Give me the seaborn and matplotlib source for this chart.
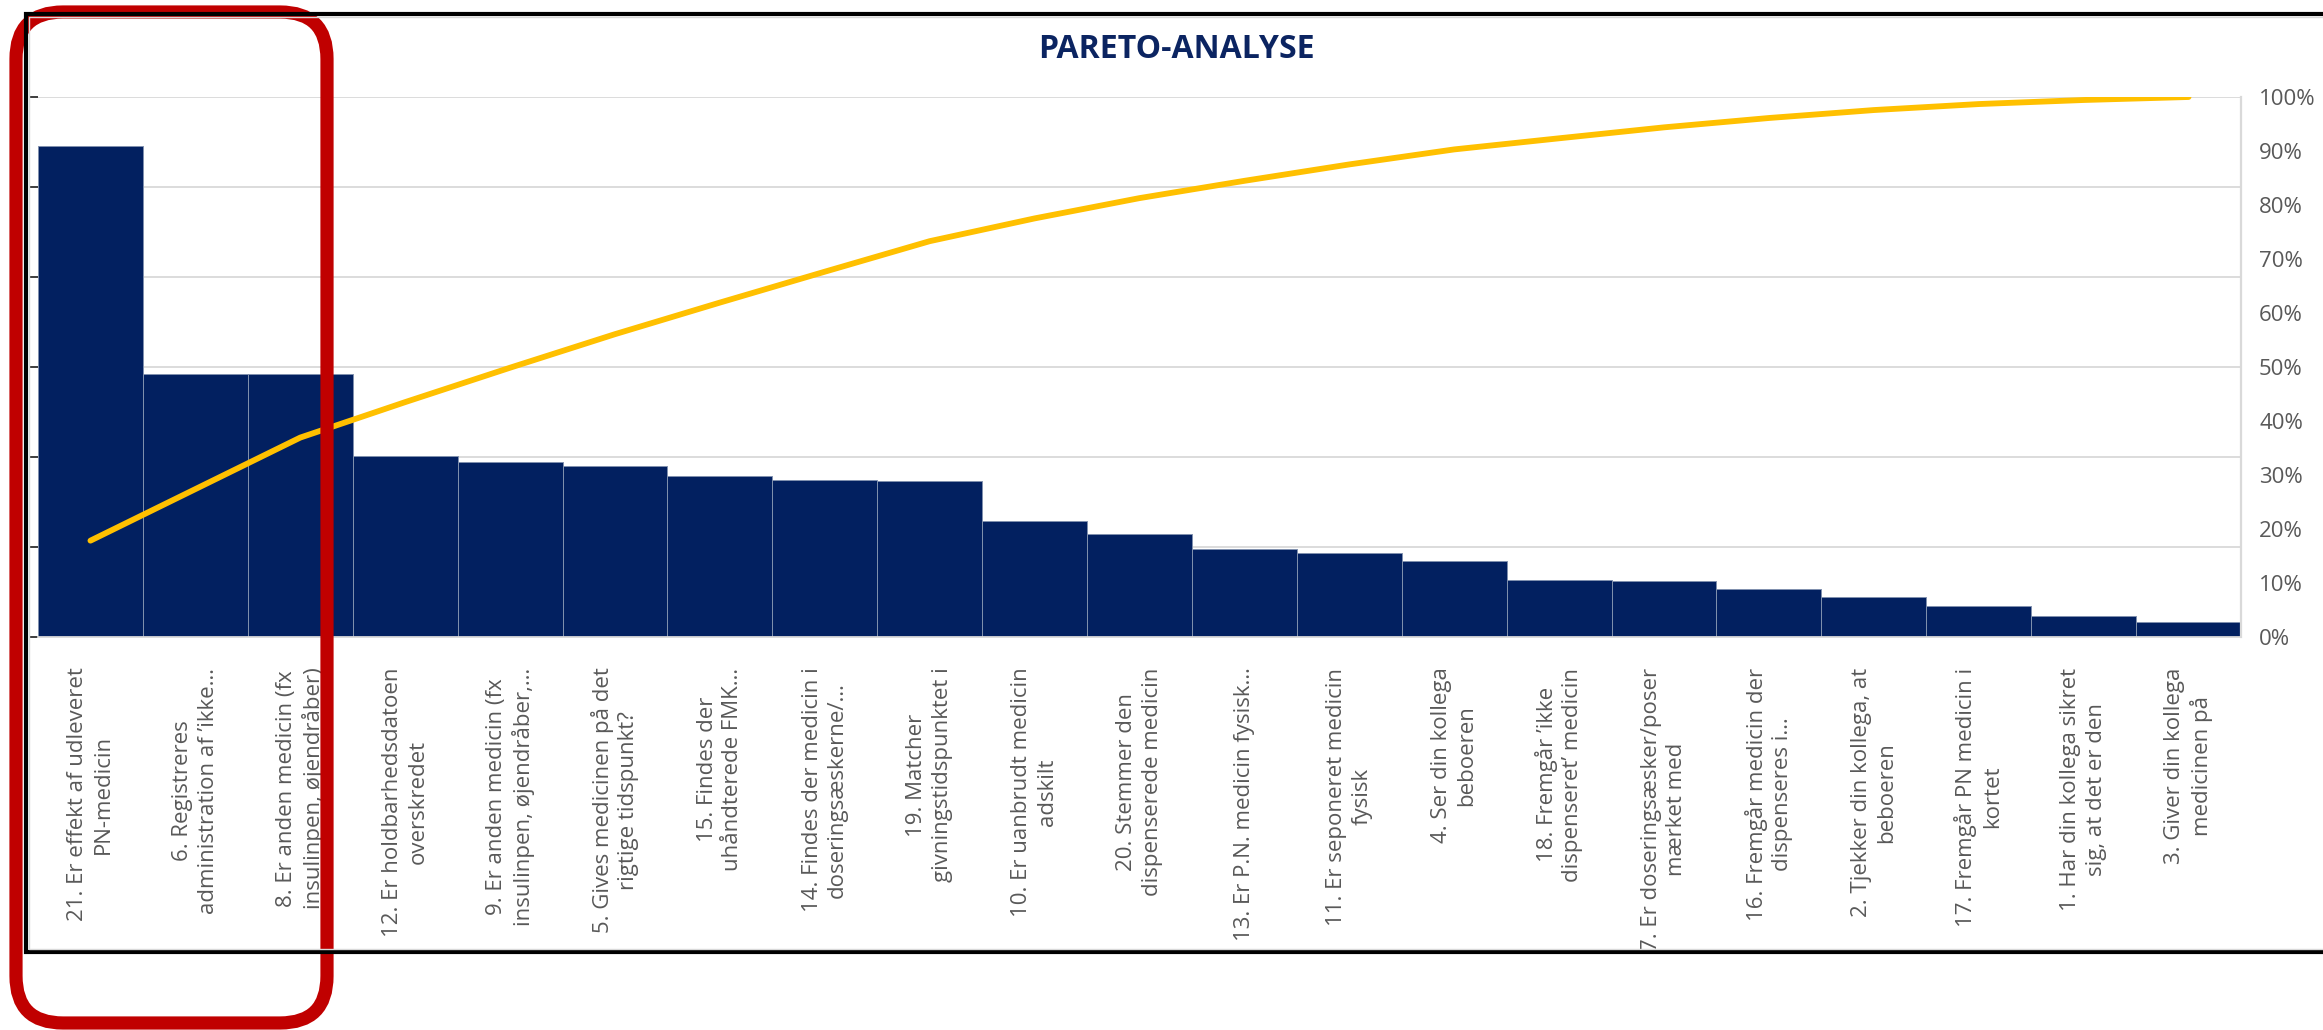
import numpy as np
import pandas as pd
import matplotlib
matplotlib.use("Agg")
import matplotlib.pyplot as plt
import seaborn as sns
from matplotlib.patches import FancyBboxPatch
from matplotlib.lines import Line2D
from matplotlib.ticker import MultipleLocator, PercentFormatter

# Questions, sorted by number of deviations (largest first)
questions = [
    "21. Er effekt af udleveret\nPN-medicin",
    "6. Registreres\nadministration af \u2019ikke\u2026",
    "8. Er anden medicin (fx\ninsulinpen, øjendråber)",
    "12. Er holdbarhedsdatoen\noverskredet",
    "9. Er anden medicin (fx\ninsulinpen, øjendråber,\u2026",
    "5. Gives medicinen på det\nrigtige tidspunkt?",
    "15. Findes der\nuhåndterede FMK\u2026",
    "14. Findes der medicin i\ndoseringsæskerne/\u2026",
    "19. Matcher\ngivningstidspunktet i",
    "10. Er uanbrudt medicin\nadskilt",
    "20. Stemmer den\ndispenserede medicin",
    "13. Er P.N. medicin fysisk\u2026",
    "11. Er seponeret medicin\nfysisk",
    "4. Ser din kollega\nbeboeren",
    "18. Fremgår \u2019ikke\ndispenseret\u2019 medicin",
    "7. Er doseringsæsker/poser\nmærket med",
    "16. Fremgår medicin der\ndispenseres i\u2026",
    "2. Tjekker din kollega, at\nbeboeren",
    "17. Fremgår PN medicin i\nkortet",
    "1. Har din kollega sikret\nsig, at det er den",
    "3. Giver din kollega\nmedicinen på",
]

# Number of deviations per question
counts = [54.6, 29.2, 29.2, 20.1, 19.5, 19.0, 17.9, 17.5, 17.3, 12.9, 11.5,
          9.8, 9.3, 8.5, 6.3, 6.2, 5.3, 4.5, 3.4, 2.3, 1.7]

count_axis_max = 60
count_axis_step = 10
pct_ticks_step = 0.1

NAVY = "#022060"
GOLD = "#FFC000"
GRID = "#D9D9D9"
TEXT = "#595959"

df = pd.DataFrame({"spm": questions, "antal": counts})
df["kumuleret"] = df["antal"].cumsum() / df["antal"].sum()
df["pos"] = np.arange(len(df))

sns.set_theme(style="white")
plt.rcParams["font.family"] = ["Open Sans", "DejaVu Sans"]

W, H = 2323, 1030
fig = plt.figure(figsize=(W / 100, H / 100), dpi=100)
fig.patch.set_facecolor("white")

ax = fig.add_axes([38 / W, 1 - 637 / H, (2241 - 38) / W, (637 - 97) / H])

sns.barplot(data=df, x="spm", y="antal", color=NAVY, saturation=1,
            width=1.0, edgecolor="#8091AE", linewidth=0.7, ax=ax, zorder=2)

ax.set_xlim(-0.5, len(df) - 0.5)
ax.set_ylim(0, count_axis_max)
ax.yaxis.set_major_locator(MultipleLocator(count_axis_step))
ax.grid(axis="y", color=GRID, linewidth=1.3, zorder=0)
ax.grid(axis="x", visible=False)
ax.set_axisbelow(True)
ax.tick_params(axis="y", left=False, labelleft=False)
ax.set_xlabel("")
ax.set_ylabel("")
for side in ("left", "top", "right"):
    ax.spines[side].set_visible(False)
ax.spines["bottom"].set_color(GRID)
ax.spines["bottom"].set_linewidth(1.3)

ax.set_xticks(df["pos"])
ax.set_xticklabels(df["spm"], rotation=90, ha="center", va="top",
                   multialignment="center", fontsize=16, color=TEXT,
                   linespacing=1.28)
ax.tick_params(axis="x", length=0, pad=22)

# Cumulative share on the right-hand axis
ax2 = ax.twinx()
sns.lineplot(data=df, x="pos", y="kumuleret", color=GOLD, linewidth=4.2,
             ax=ax2, solid_capstyle="round", zorder=3)
ax2.set_xlim(-0.5, len(df) - 0.5)
ax2.set_ylim(0, 1)
ax2.yaxis.set_major_locator(MultipleLocator(pct_ticks_step))
ax2.yaxis.set_major_formatter(PercentFormatter(1.0, decimals=0))
ax2.tick_params(axis="y", length=0, pad=13, labelsize=16, labelcolor=TEXT)
ax2.set_ylabel("")
ax2.grid(False)
for side in ("left", "top", "bottom"):
    ax2.spines[side].set_visible(False)
ax2.spines["right"].set_color(GRID)
ax2.spines["right"].set_linewidth(1.6)

fig.text(1176 / W, 1 - 49 / H, "PARETO-ANALYSE", ha="center", va="center",
         fontsize=23, fontweight="bold", color="#0B2461")

# Chart frame (open on the right)
inch = fig.dpi_scale_trans
fig.add_artist(Line2D([23.6, 0.255, 0.255, 23.6], [10.165, 10.165, 0.78, 0.78],
                      transform=inch, color="black", linewidth=3.0,
                      solid_joinstyle="miter"))
fig.add_artist(Line2D([23.6, 0.29, 0.29, 23.6], [10.13, 10.13, 0.81, 0.81],
                      transform=inch, color=GRID, linewidth=1.0))

# Highlight of the three largest categories
fig.add_artist(FancyBboxPatch((0.16, 0.07), 3.11, 10.11,
                              boxstyle="round,pad=0,rounding_size=0.47",
                              transform=inch, fill=False, edgecolor="#C00000",
                              linewidth=9.5))

fig.savefig("out.png", dpi=100)
